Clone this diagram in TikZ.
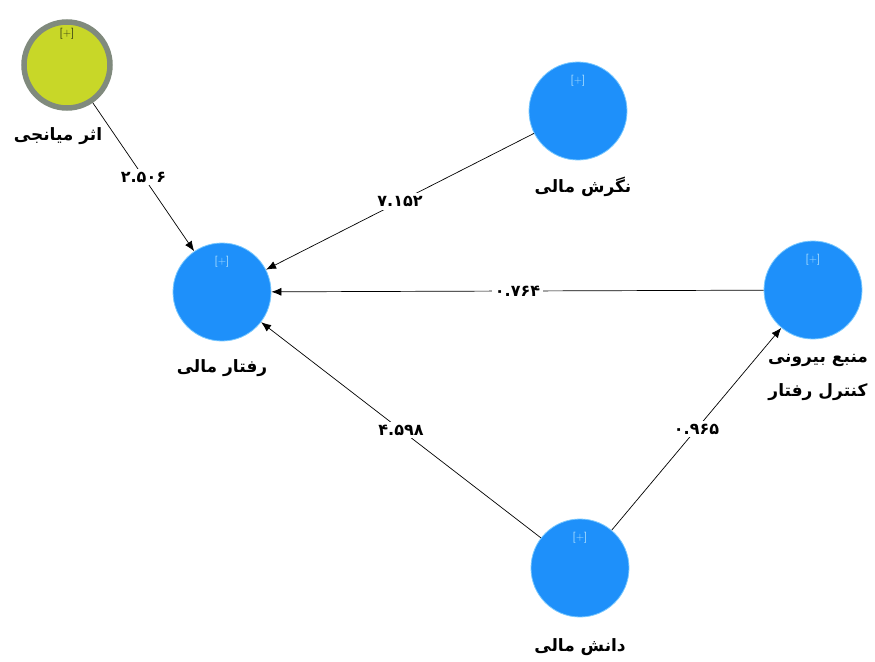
\documentclass[tikz,border=0pt]{standalone}
\usepackage{fontspec}
\TeXXeTstate=1
\newfontfamily\farsi[Script=Arabic]{DejaVu Sans}
\usetikzlibrary{positioning,arrows.meta}
\definecolor{lvblue}{RGB}{30,144,250}
\definecolor{lvedge}{RGB}{120,200,255}
\definecolor{modfill}{RGB}{200,215,40}
\definecolor{modedge}{RGB}{128,138,125}
\definecolor{plusblue}{RGB}{175,225,255}
\definecolor{plusdark}{RGB}{50,60,20}
\begin{document}
\begin{tikzpicture}[
            x=1pt, y=-1pt,
            lv/.style={circle, fill=lvblue, draw=lvedge, line width=0.8pt, minimum size=98pt, inner sep=0pt},
            modlv/.style={circle, fill=modfill, draw=modedge, line width=5.5pt, minimum size=86pt, inner sep=0pt},
            plusmark/.style={font=\sffamily\fontsize{11}{11}\selectfont, text=plusblue, inner sep=1pt},
            lvlabel/.style={font=\farsi\bfseries\fontsize{17}{34}\selectfont, align=center, inner sep=2pt},
            coef/.style={font=\farsi\bfseries\fontsize{16}{16}\selectfont, fill=white, inner sep=3pt},
            arr/.style={-{Latex[length=10pt,width=8pt]}, line width=0.7pt}
        ]
        \useasboundingbox (0,0) rectangle (875,661);

        % Moderator
        \node[modlv] (mia) at (67,65) {};
        \node[plusmark, text=plusdark] (miap) at ([yshift=-15pt]mia.north) {[+]};
        \node[lvlabel, below=15pt of mia, xshift=-9pt] (mial) {\beginR اثر میانجی\endR};

        % Latent variables
        \node[lv] (raf) at (222,292) {};
        \node[plusmark] (rafp) at ([yshift=-19pt]raf.north) {[+]};
        \node[lvlabel, below=16pt of raf] (rafl) {\beginR رفتار مالی\endR};

        \node[lv] (neg) at (578,111) {};
        \node[plusmark] (negp) at ([yshift=-19pt]neg.north) {[+]};
        \node[lvlabel, below=14pt of neg, xshift=5pt] (negl) {\beginR نگرش مالی\endR};

        \node[lv] (kon) at (813,290) {};
        \node[plusmark] (konp) at ([yshift=-19pt]kon.north) {[+]};
        \node[lvlabel, below=13pt of kon, xshift=5pt] (konl) {\beginR منبع بیرونی\endR\\\beginR کنترل رفتار\endR};

        \node[lv] (dan) at (580,568) {};
        \node[plusmark] (danp) at ([yshift=-19pt]dan.north) {[+]};
        \node[lvlabel, below=19pt of dan] (danl) {\beginR دانش مالی\endR};

        % Paths with coefficients
        \draw[arr] (mia) -- node[coef] (c1) {۲.۵۰۶} (raf);
        \draw[arr] (neg) -- node[coef] (c2) {۷.۱۵۲} (raf);
        \draw[arr] (kon) -- node[coef] (c3) {۰.۷۶۴} (raf);
        \draw[arr] (dan) -- node[coef] (c4) {۴.۵۹۸} (raf);
        \draw[arr] (dan) -- node[coef] (c5) {۰.۹۶۵} (kon);
        \end{tikzpicture}
\end{document}
